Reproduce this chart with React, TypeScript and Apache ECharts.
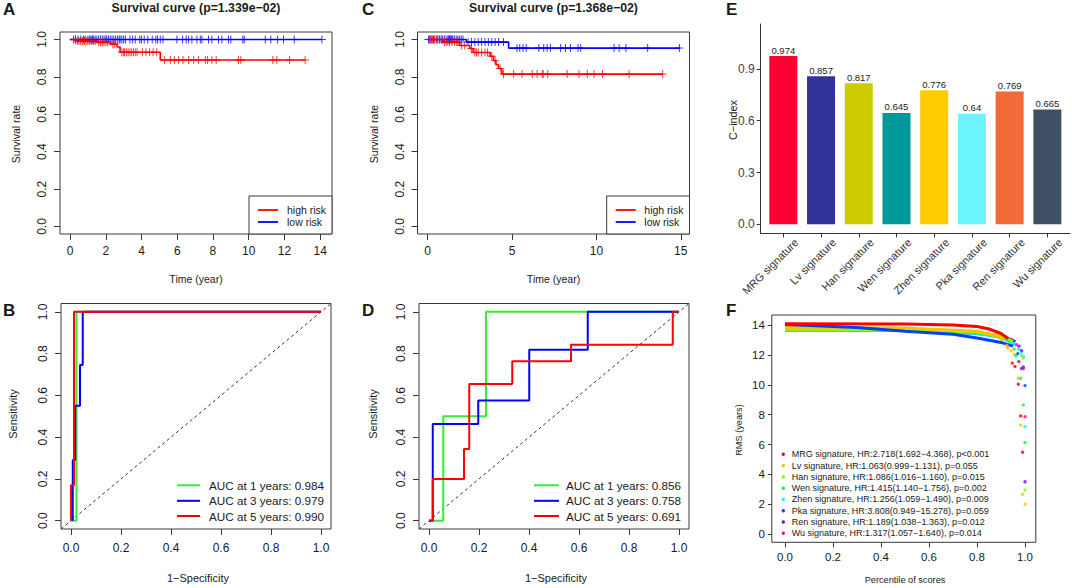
import React, { useEffect, useRef } from "react";
import * as echarts from "echarts";

// ---------- Panel A (survival, training) ----------
const aTicks = [0, 2, 4, 6, 8, 10, 12, 14];
const survTicks = [0, 0.2, 0.4, 0.6, 0.8, 1.0];
const aHighSteps: [number, number][] = [[0, 1], [0.35, 0.992], [1.5, 0.985], [2.25, 0.975], [2.63, 0.96], [2.8, 0.932], [5.05, 0.89], [13.16, 0.89]];
const aLowSteps: [number, number][] = [[0, 1], [14.1, 1]];
const aHighCensor = [0.3, 0.4, 0.5, 0.6, 0.7, 0.8, 0.9, 1.0, 1.1, 1.2, 1.3, 1.4, 1.6, 1.7, 1.8, 1.9, 2.0, 2.1, 2.4, 2.5, 2.9, 3.0, 3.05, 3.15, 3.25, 3.35, 3.45, 3.55, 3.65, 3.75, 4.05, 4.25, 4.45, 4.65, 4.85, 5.28, 5.61, 5.84, 6.08, 6.32, 6.64, 6.92, 7.2, 7.57, 7.7, 7.94, 8.18, 9.43, 9.56, 11.35, 11.58, 12.29, 13.16];
const aLowCensor = [0.2, 0.3, 0.45, 0.6, 0.75, 0.85, 1.0, 1.1, 1.17, 1.25, 1.3, 1.4, 1.5, 1.6, 1.7, 1.8, 1.9, 2.0, 2.05, 2.15, 2.25, 2.35, 2.45, 2.55, 2.65, 2.75, 2.8, 2.9, 3.0, 3.1, 3.35, 3.5, 3.65, 3.9, 4.0, 4.15, 4.35, 4.6, 4.8, 4.9, 5.05, 5.2, 5.98, 6.3, 6.5, 6.64, 6.82, 7.1, 7.29, 7.38, 7.75, 7.94, 8.31, 8.5, 8.87, 9.0, 9.67, 9.75, 10.93, 11.24, 11.62, 11.95, 12.55, 14.1];

// ---------- Panel C (survival, validation) ----------
const cTicks = [0, 5, 10, 15];
const cHighSteps: [number, number][] = [[0, 1], [0.9, 0.986], [1.9, 0.968], [2.5, 0.952], [2.7, 0.93], [3.7, 0.91], [3.9, 0.887], [4.05, 0.865], [4.2, 0.845], [4.4, 0.815], [13.93, 0.815]];
const cLowSteps: [number, number][] = [[0, 1], [2.3, 0.986], [4.8, 0.954], [14.92, 0.954]];
const cHighCensor = [0.1, 0.2, 0.3, 0.4, 0.55, 0.7, 0.85, 1.0, 1.1, 1.2, 1.3, 1.45, 1.6, 1.7, 1.8, 2.0, 2.2, 2.6, 2.8, 2.9, 3.0, 3.2, 3.4, 3.55, 3.8, 4.0, 4.3, 4.5, 5.1, 5.6, 6.2, 6.49, 6.79, 6.85, 7.12, 8.27, 8.97, 9.46, 9.86, 10.36, 11.94, 13.93];
const cLowCensor = [0.05, 0.15, 0.25, 0.35, 0.5, 0.6, 0.7, 0.8, 0.9, 1.0, 1.1, 1.2, 1.25, 1.3, 1.35, 1.4, 1.45, 1.5, 1.6, 1.7, 1.8, 1.9, 2.0, 2.1, 2.4, 2.6, 2.8, 3.0, 3.2, 3.4, 3.6, 3.8, 4.0, 4.2, 4.5, 5.3, 5.46, 5.65, 5.85, 6.59, 6.88, 7.08, 7.28, 7.88, 8.17, 8.47, 8.91, 9.07, 11.05, 11.35, 11.75, 13.04, 14.92];

// ---------- Panels B & D (time-dependent ROC) ----------
const rocTicks = [0, 0.2, 0.4, 0.6, 0.8, 1.0];
const rocDiag: [number, number][] = [[-0.04, -0.04], [1.04, 1.04]];
const bGreen: [number, number][] = [[0, 0], [0.022, 0], [0.022, 1], [1, 1]];
const bBlue: [number, number][] = [[0.007, 0], [0.007, 0.29], [0.017, 0.29], [0.017, 0.55], [0.036, 0.55], [0.036, 0.745], [0.047, 0.745], [0.047, 1], [1, 1]];
const bRed: [number, number][] = [[0, 0], [0, 0.17], [0.012, 0.17], [0.012, 1], [1, 1]];
const bLegend = ["AUC at 1 years: 0.984", "AUC at 3 years: 0.979", "AUC at 5 years: 0.990"];
const dGreen: [number, number][] = [[0, 0], [0.057, 0], [0.057, 0.5], [0.228, 0.5], [0.228, 1], [1, 1]];
const dBlue: [number, number][] = [[0, 0], [0.015, 0], [0.015, 0.463], [0.197, 0.463], [0.197, 0.575], [0.401, 0.575], [0.401, 0.818], [0.635, 0.818], [0.635, 1], [1, 1]];
const dRed: [number, number][] = [[0, 0], [0.015, 0], [0.015, 0.2], [0.14, 0.2], [0.14, 0.343], [0.161, 0.343], [0.161, 0.655], [0.333, 0.655], [0.333, 0.764], [0.568, 0.764], [0.568, 0.843], [0.975, 0.843], [0.975, 1], [1, 1]];
const dLegend = ["AUC at 1 years: 0.856", "AUC at 3 years: 0.758", "AUC at 5 years: 0.691"];
const rocColors = ["#33EE33", "#0000FF", "#FF0000"];

// ---------- Panel E (C-index bars) ----------
const eNames = ["MRG signature", "Lv signature", "Han signature", "Wen signature", "Zhen signature", "Pka signature", "Ren signature", "Wu signature"];
const eValues = [0.974, 0.857, 0.817, 0.645, 0.776, 0.64, 0.769, 0.665];
const eColors = ["#FF0033", "#333399", "#CCCC00", "#009999", "#FFCC00", "#6CF4FF", "#F26A3A", "#3F4F66"];
const eTicks = [0, 0.3, 0.6, 0.9];

// ---------- Panel F (RMS curves) ----------
const fXTicks = [0, 0.2, 0.4, 0.6, 0.8, 1.0];
const fYTicks = [0, 2, 4, 6, 8, 10, 12, 14];
const fColors = ["#FF0000", "#FFBF00", "#80FF00", "#00FF40", "#00FFFF", "#0040FF", "#8000FF", "#FF00BF"];
const fLegend = [
  "MRG signature, HR:2.718(1.692\u22124.368), p<0.001",
  "Lv signature, HR:1.063(0.999\u22121.131), p=0.055",
  "Han signature, HR:1.086(1.016\u22121.160), p=0.015",
  "Wen signature, HR:1.415(1.140\u22121.756), p=0.002",
  "Zhen signature, HR:1.256(1.059\u22121.490), p=0.009",
  "Pka signature, HR:3.808(0.949\u221215.278), p=0.059",
  "Ren signature, HR:1.189(1.038\u22121.363), p=0.012",
  "Wu signature, HR:1.317(1.057\u22121.640), p=0.014",
];
const fBands: [number, number][][] = [
  [[0, 14.1], [0.5, 14.08], [0.7, 14.02], [0.8, 13.92], [0.85, 13.75], [0.9, 13.45], [0.93, 13.1]],
  [[0, 13.85], [0.5, 13.82], [0.8, 13.6], [0.88, 13.3], [0.91, 13.0]],
  [[0, 13.7], [0.5, 13.7], [0.8, 13.55], [0.9, 13.3], [0.95, 12.9]],
  [[0, 13.65], [0.5, 13.65], [0.8, 13.5], [0.9, 13.25], [0.94, 12.9]],
  [[0, 13.95], [0.5, 13.7], [0.8, 13.45], [0.9, 13.2], [0.96, 12.7]],
  [[0, 14.05], [0.3, 13.85], [0.5, 13.6], [0.7, 13.4], [0.8, 13.15], [0.85, 13.0], [0.9, 12.85], [0.95, 12.6]],
  [[0, 13.8], [0.5, 13.7], [0.8, 13.5], [0.9, 13.3], [0.96, 12.9]],
  [[0, 13.75], [0.5, 13.65], [0.8, 13.45], [0.9, 13.25], [0.95, 13.0]],
];
const fTails: [number, number][][] = [
  [[0.947, 11.46], [0.958, 11.23], [0.972, 10.05], [0.982, 7.92], [0.99, 5.48]],
  [[0.924, 12.64], [0.93, 12.46], [0.942, 12.28], [0.955, 12.06], [0.972, 10.45], [0.982, 7.3], [0.99, 2.66], [1.0, 2.0]],
  [[0.972, 12.4], [0.985, 12.0], [0.993, 11.8], [1.0, 2.95]],
  [[0.955, 12.4], [0.962, 11.95], [0.972, 11.56], [0.982, 10.45], [0.993, 8.66], [1.0, 6.13]],
  [[0.975, 12.4], [0.985, 12.2], [0.993, 11.9], [1.0, 7.2]],
  [[0.97, 12.1], [0.986, 11.1], [1.0, 9.95]],
  [[0.975, 12.6], [0.986, 12.3], [0.993, 11.2], [1.0, 3.5]],
  [[0.965, 12.7], [0.975, 11.56], [0.993, 11.1], [1.0, 7.87]],
];

const FONT = "'Liberation Sans', Arial, Helvetica, sans-serif";
const BOX = "#3a3a3a";
const TXT = "#1a1a1a";
const PLUS = "path://M4.4,0L5.6,0L5.6,4.4L10,4.4L10,5.6L5.6,5.6L5.6,10L4.4,10L4.4,5.6L0,5.6L0,4.4L4.4,4.4Z";

function survAt(steps: [number, number][], t: number) {
  let v = steps[0][1];
  for (const [st, sv] of steps) if (st <= t) v = sv;
  return v;
}

function rX(gridIndex: number, min: number, max: number, ticks: number[], fmt: (v: number) => string, margin: number, fontSize = 12) {
  return {
    type: "value", gridIndex, min, max,
    axisLine: { show: false, onZero: false },
    axisTick: { show: true, customValues: ticks, length: 6, lineStyle: { color: BOX, width: 1 } },
    axisLabel: { show: true, customValues: ticks, formatter: fmt, margin, fontSize, color: TXT, fontFamily: FONT },
    splitLine: { show: false },
  };
}
function rY(gridIndex: number, min: number, max: number, ticks: number[], fmt: (v: number) => string, margin: number, rotate: number, fontSize = 12, tickLen = 6) {
  return {
    type: "value", gridIndex, min, max,
    axisLine: { show: false, onZero: false },
    axisTick: { show: true, customValues: ticks, length: tickLen, lineStyle: { color: BOX, width: 1 } },
    axisLabel: { show: true, customValues: ticks, formatter: fmt, margin, rotate, fontSize, color: TXT, fontFamily: FONT },
    splitLine: { show: false },
  };
}

const f1 = (v: number) => v.toFixed(1);
const f0 = (v: number) => String(Math.round(v));

function txt(text: string, x: number, y: number, fontSize: number, opts: any = {}) {
  return {
    type: "text", x, y, z: 100, rotation: opts.rotation || 0,
    style: { text, fontSize, fontFamily: FONT, fontWeight: opts.bold ? "bold" : "normal", fill: opts.fill || TXT, align: opts.align || "center", verticalAlign: "middle" },
  };
}
function seg(x1: number, y1: number, x2: number, y2: number, stroke: string, lineWidth: number) {
  return { type: "line", z: 101, shape: { x1, y1, x2, y2 }, style: { stroke, lineWidth } };
}

export default function App() {
  const ref = useRef<HTMLDivElement>(null);
  useEffect(() => {
    if (!ref.current) return;
    const chart = echarts.init(ref.current, undefined, { renderer: "svg" });
    const gridBase = { show: true, borderColor: BOX, borderWidth: 1, backgroundColor: "transparent", containLabel: false, outerBoundsMode: "none" };

    const series: any[] = [];
    const kmStep = (data: [number, number][], color: string, xi: number, yi: number) => ({
      type: "line", step: "end", data, xAxisIndex: xi, yAxisIndex: yi, symbol: "none", silent: true,
      lineStyle: { color, width: 1.6 }, z: 3,
    });
    const kmCens = (times: number[], steps: [number, number][], color: string, xi: number, yi: number) => ({
      type: "scatter", data: times.map((t) => [t, survAt(steps, t)]), xAxisIndex: xi, yAxisIndex: yi,
      symbol: PLUS, symbolSize: 8, itemStyle: { color }, silent: true, z: 4,
    });
    // A
    series.push(kmStep(aLowSteps, "#0000FF", 0, 0), kmCens(aLowCensor, aLowSteps, "#0000FF", 0, 0));
    series.push(kmStep(aHighSteps, "#FF0000", 0, 0), kmCens(aHighCensor, aHighSteps, "#FF0000", 0, 0));
    // C
    series.push(kmStep(cLowSteps, "#0000FF", 1, 1), kmCens(cLowCensor, cLowSteps, "#0000FF", 1, 1));
    series.push(kmStep(cHighSteps, "#FF0000", 1, 1), kmCens(cHighCensor, cHighSteps, "#FF0000", 1, 1));
    // E bars
    series.push({
      type: "bar", xAxisIndex: 2, yAxisIndex: 2, barWidth: 28,
      data: eValues.map((v, i) => ({ value: [i + 1, v], itemStyle: { color: eColors[i] } })),
      label: { show: true, position: "top", distance: 1, fontSize: 9.5, color: "#222", fontFamily: FONT, formatter: (p: any) => String(p.value[1]) },
      silent: true,
    });
    // B & D ROC
    const roc = (data: [number, number][], color: string, xi: number, yi: number, dashed = false) => ({
      type: "line", data, xAxisIndex: xi, yAxisIndex: yi, symbol: "none", silent: true,
      lineStyle: dashed ? { color: "#333", width: 1, type: [3, 3] } : { color, width: 2 }, z: 3,
    });
    series.push(roc(rocDiag, "#333", 4, 3, true), roc(bGreen, rocColors[0], 4, 3), roc(bBlue, rocColors[1], 4, 3), roc(bRed, rocColors[2], 4, 3));
    series.push(roc(rocDiag, "#333", 5, 4, true), roc(dGreen, rocColors[0], 5, 4), roc(dBlue, rocColors[1], 5, 4), roc(dRed, rocColors[2], 5, 4));
    // F
    const fOrder = [7, 6, 4, 3, 2, 1, 5, 0];
    fOrder.forEach((i) => {
      series.push({
        type: "line", data: fBands[i], xAxisIndex: 6, yAxisIndex: 5, symbol: "none", silent: true,
        lineStyle: { color: fColors[i], width: 3 }, z: 3,
      });
    });
    fTails.forEach((d, i) => {
      series.push({
        type: "scatter", data: d, xAxisIndex: 6, yAxisIndex: 5, symbol: "circle", symbolSize: 3.4, silent: true,
        itemStyle: { color: fColors[i] }, z: 4,
      });
    });

    const graphic: any[] = [];
    // panel letters
    graphic.push(txt("A", 3, 9, 17, { bold: true, align: "left" }));
    graphic.push(txt("C", 362, 9, 17, { bold: true, align: "left" }));
    graphic.push(txt("E", 726, 9, 17, { bold: true, align: "left" }));
    graphic.push(txt("B", 3, 310, 17, { bold: true, align: "left" }));
    graphic.push(txt("D", 362, 310, 17, { bold: true, align: "left" }));
    graphic.push(txt("F", 726, 310, 17, { bold: true, align: "left" }));
    // titles
    graphic.push(txt("Survival curve (p=1.339e\u221202)", 196, 8, 12.3, { bold: true }));
    graphic.push(txt("Survival curve (p=1.368e\u221202)", 553.5, 8, 12.3, { bold: true }));
    // axis titles
    graphic.push(txt("Survival rate", 16, 134, 10.5, { rotation: Math.PI / 2 }));
    graphic.push(txt("Time (year)", 196, 279, 10.5));
    graphic.push(txt("Survival rate", 373.5, 134, 10.5, { rotation: Math.PI / 2 }));
    graphic.push(txt("Time (year)", 553.5, 279, 10.5));
    graphic.push(txt("Sensitivity", 13, 414, 11, { rotation: Math.PI / 2 }));
    graphic.push(txt("1\u2212Specificity", 198, 578, 11));
    graphic.push(txt("Sensitivity", 372.5, 414, 11, { rotation: Math.PI / 2 }));
    graphic.push(txt("1\u2212Specificity", 556, 578, 11));
    graphic.push(txt("C\u2212index", 733, 120, 10.8, { rotation: Math.PI / 2 }));
    graphic.push(txt("RMS (years)", 738.5, 430, 9.2, { rotation: Math.PI / 2 }));
    graphic.push(txt("Percentile of scores", 905, 580, 9.2));
    // legends A and C
    [[249, 258, 278, 287], [606.7, 615.7, 635.7, 644.3]].forEach(([bx, lx1, lx2, tx]) => {
      graphic.push({ type: "rect", z: 99, shape: { x: bx, y: 196, width: (bx < 400 ? 332 : 689.5) - bx, height: 38 }, style: { fill: "#fff", stroke: BOX, lineWidth: 1 } });
      graphic.push(seg(lx1, 210, lx2, 210, "#FF0000", 1.8));
      graphic.push(seg(lx1, 222, lx2, 222, "#0000FF", 1.8));
      graphic.push(txt("high risk", tx, 210, 10.5, { align: "left" }));
      graphic.push(txt("low risk", tx, 222, 10.5, { align: "left" }));
    });
    // legends B and D
    const rows = [485.3, 500.8, 516];
    rows.forEach((y, i) => {
      graphic.push(seg(177, y, 200, y, rocColors[i], 2));
      graphic.push(txt(bLegend[i], 209, y, 11.7, { align: "left" }));
      graphic.push(seg(534, y, 559, y, rocColors[i], 2));
      graphic.push(txt(dLegend[i], 566, y, 11.7, { align: "left" }));
    });
    // legend F
    fLegend.forEach((s, i) => {
      const y = 454.3 + i * 11.29;
      graphic.push({ type: "circle", z: 101, shape: { cx: 783.3, cy: y, r: 1.7 }, style: { fill: fColors[i] } });
      graphic.push(txt(s, 791.7, y, 9, { align: "left" }));
    });

    const eStep = 309.3 / 8.2;
    const eShift = 13 / eStep;

    chart.setOption({
      animation: false,
      textStyle: { fontFamily: FONT },
      grid: [
        { ...gridBase, left: 60, top: 32, width: 272, height: 202 },
        { ...gridBase, left: 417.5, top: 32, width: 272, height: 202 },
        { ...gridBase, show: false, left: 760.7, top: 24, width: 309.3, height: 209.3 },
        { ...gridBase, left: 61, top: 303.5, width: 270, height: 225.5 },
        { ...gridBase, left: 419, top: 303.5, width: 270, height: 225.5 },
        { ...gridBase, left: 771.8, top: 315, width: 264, height: 227.3 },
      ],
      xAxis: [
        rX(0, -0.564, 14.664, aTicks, f0, 11),
        rX(1, -0.597, 15.517, cTicks, f0, 11),
        {
          type: "value", gridIndex: 2, min: 0.4, max: 8.6, position: "bottom",
          axisLine: { show: true, onZero: false, lineStyle: { color: "#333", width: 1 } },
          axisTick: { show: true, customValues: [1, 2, 3, 4, 5, 6, 7, 8], length: 4, lineStyle: { color: "#333" } },
          axisLabel: { show: false }, splitLine: { show: false },
        },
        {
          type: "value", gridIndex: 2, min: 0.4 - eShift, max: 8.6 - eShift, position: "bottom",
          axisLine: { show: false, onZero: false }, axisTick: { show: false },
          axisLabel: { show: true, customValues: [1, 2, 3, 4, 5, 6, 7, 8], rotate: 45, margin: 7, fontSize: 11, color: "#333", fontFamily: FONT, formatter: (v: number) => eNames[Math.round(v) - 1] },
          splitLine: { show: false },
        },
        rX(3, -0.04, 1.04, rocTicks, f1, 13),
        rX(4, -0.04, 1.04, rocTicks, f1, 13),
        { ...rX(5, -0.055, 1.045, fXTicks, f1, 9, 11.5), axisTick: { show: true, customValues: fXTicks, length: 5, lineStyle: { color: BOX } } },
      ],
      yAxis: [
        rY(0, -0.04, 1.04, survTicks, f1, 12, 90),
        rY(1, -0.04, 1.04, survTicks, f1, 12, 90),
        {
          type: "value", gridIndex: 2, min: -0.052, max: 1.16,
          axisLine: { show: true, onZero: false, lineStyle: { color: "#333", width: 1 } },
          axisTick: { show: true, customValues: eTicks, length: 4, lineStyle: { color: "#333" } },
          axisLabel: { show: true, customValues: eTicks, formatter: f1, margin: 6, fontSize: 12, color: "#444", fontFamily: FONT },
          splitLine: { show: false },
        },
        rY(3, -0.04, 1.04, rocTicks, f1, 12, 90),
        rY(4, -0.04, 1.04, rocTicks, f1, 12, 90),
        rY(5, -0.56, 14.69, fYTicks, f0, 7, 0, 11.5, 4),
      ],
      series,
      graphic,
    });
    return () => chart.dispose();
  }, []);
  return <div ref={ref} style={{ position: "fixed", left: 0, top: 0, width: 1072, height: 588, background: "#fff" }} />;
}
